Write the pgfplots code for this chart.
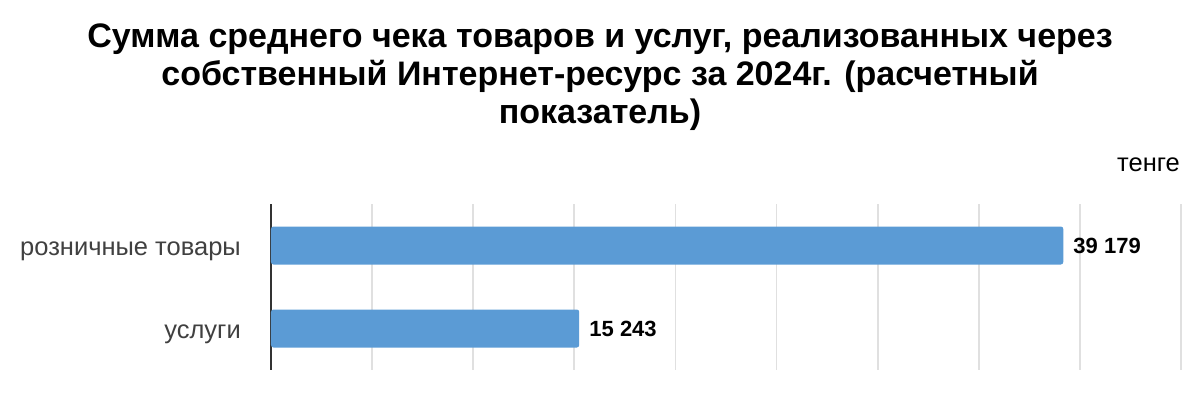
\documentclass[border=0pt]{standalone}
\usepackage{pgfplots}
\pgfplotsset{compat=1.18}
\usepackage{fontspec}
\setmainfont{Liberation Sans}
\definecolor{barblue}{HTML}{5B9BD5}
\definecolor{gridgray}{HTML}{E0E0E0}
\definecolor{axisdark}{HTML}{333333}
\definecolor{labelgray}{HTML}{404040}
\begin{document}
\begin{tikzpicture}[x=1pt,y=1pt]
\path[use as bounding box] (0,0) rectangle (1200,400);
\node[align=center, font=\fontsize{34}{36}\selectfont\bfseries] at (600,323)
  {Сумма среднего чека товаров и услуг, реализованных через\\[2pt]собственный Интернет-ресурс за 2024г. (расчетный\\[2pt]показатель)};
\node[anchor=east, font=\fontsize{25.5}{30}\selectfont, inner sep=0pt] at (1180,235) {тенге};
\begin{axis}[
  at={(271pt,30pt)}, anchor=south west,
  width=910pt, height=166pt, scale only axis,
  xbar, bar width=38pt,
  xmin=0, xmax=45000, ymin=-0.5, ymax=1.5,
  y dir=reverse,
  scaled x ticks=false,
  xtick={0,5000,...,45000}, xticklabels={},
  ytick={0,1}, yticklabels={розничные товары, услуги},
  xmajorgrids, major grid style={gridgray, line width=1.8pt},
  axis lines*=left,
  x axis line style={draw=none},
  y axis line style={draw=axisdark, line width=1.8pt},
  major tick length=0pt,
  yticklabel style={font=\fontsize{25.5}{30}\selectfont, text=labelgray, inner sep=0pt, xshift=-30pt, yshift=-6pt},
  nodes near coords, point meta=explicit symbolic,
  every node near coord/.append style={font=\fontsize{22}{26}\selectfont\bfseries, inner sep=0pt, anchor=west, xshift=10pt, text=black},
]
\addplot[draw=none, fill=barblue, rounded corners=2.5pt] coordinates {(39179,0) [39 179] (15243,1) [15 243]};
\end{axis}
\end{tikzpicture}
\end{document}
